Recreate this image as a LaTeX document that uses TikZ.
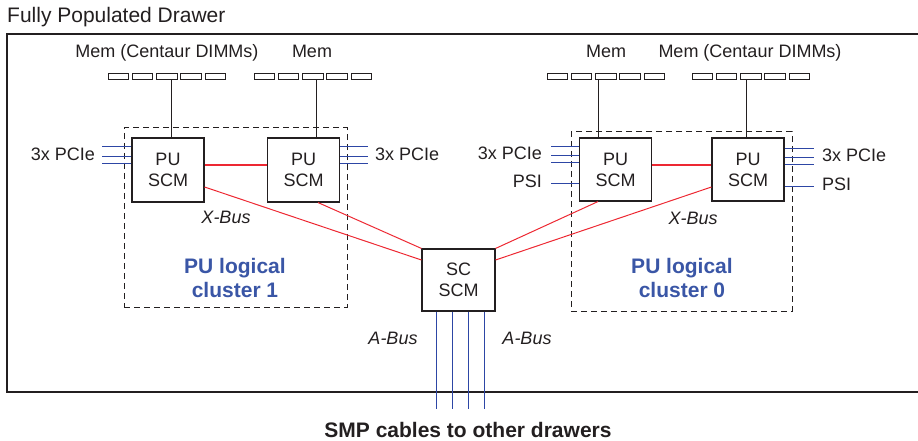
\documentclass[tikz,border=0pt]{standalone}
\usepackage{fontspec}
\setmainfont{Liberation Sans}
\usetikzlibrary{calc}
\definecolor{busred}{RGB}{237,40,50}
\definecolor{busblue}{RGB}{45,70,165}
\definecolor{clblue}{RGB}{58,86,166}
\definecolor{ink}{RGB}{35,31,32}
\begin{document}
\begin{tikzpicture}[x=1pt,y=-1pt,
  scm/.style={draw=ink, line width=1.1pt, fill=white, minimum width=72pt,
    minimum height=63pt, inner sep=0pt, align=center,
    font=\fontsize{18}{21}\selectfont, text=ink},
  dimm/.style={draw=ink, line width=0.9pt, minimum width=20.5pt,
    minimum height=6pt, inner sep=0pt},
  lbl/.style={font=\fontsize{18}{21}\selectfont, text=ink, inner sep=0pt},
  buslbl/.style={font=\fontsize{18}{21}\selectfont\itshape, text=ink, inner sep=0pt},
  cluster/.style={draw=ink, line width=1pt, dash pattern=on 6pt off 4pt},
  cllbl/.style={font=\fontsize{21}{24}\selectfont\bfseries, text=clblue,
    inner sep=0pt, align=center},
  redbus/.style={draw=busred, line width=1pt},
  xred/.style={draw=busred, line width=1.15pt},
  bluebus/.style={draw=busblue, line width=1pt},
  memline/.style={draw=ink, line width=1pt},
  frame/.style={draw=ink, line width=1.4pt}
]
\useasboundingbox (0,0) rectangle (918,441);

% title and drawer frame
\node[lbl, font=\fontsize{21}{24}\selectfont, anchor=base west] (title) at (7,23) {Fully Populated Drawer};
\draw[frame] (918,34) -- (7,34) -- (7,392) -- (918,392);

% logical clusters
\node[cluster, minimum width=223pt, minimum height=179pt, inner sep=0pt] (cl1) at (235.5,217.5) {};
\node[cluster, minimum width=221pt, minimum height=179pt, inner sep=0pt] (cl0) at (681.5,221.5) {};

% memory strips
\foreach \i in {0,...,4} {
  \node[dimm] (ma\i) at ({118.25+\i*24.3},76) {};
  \node[dimm] (mb\i) at ({264.25+\i*24.3},76) {};
  \node[dimm] (mc\i) at ({557.25+\i*24.3},76) {};
  \node[dimm] (md\i) at ({702.25+\i*24.3},76) {};
}
\node[lbl, anchor=base] (lma) at (167,58) {Mem (Centaur DIMMs)};
\node[lbl, anchor=base] (lmb) at (312,58) {Mem};
\node[lbl, anchor=base] (lmc) at (606,58) {Mem};
\node[lbl, anchor=base] (lmd) at (750,58) {Mem (Centaur DIMMs)};

% SCMs
\node[scm, minimum height=64pt] (pu1) at (168,170) {PU\\SCM};
\node[scm, minimum height=64pt] (pu2) at (303.5,170) {PU\\SCM};
\node[scm] (pu3) at (615.5,169.5) {PU\\SCM};
\node[scm] (pu4) at (748,169.5) {PU\\SCM};
\node[scm, minimum width=73pt, minimum height=62pt] (sc) at (458.5,280) {SC\\SCM};

% memory connections
\draw[memline] ([xshift=5pt]ma2.south) -- ([xshift=5pt]ma2.south |- pu1.north);
\draw[memline] ([xshift=4pt]mb2.south) -- ([xshift=4pt]mb2.south |- pu2.north);
\draw[memline] ([xshift=-7pt]mc2.south) -- ([xshift=-7pt]mc2.south |- pu3.north);
\draw[memline] ([xshift=-4pt]md2.south) -- ([xshift=-4pt]md2.south |- pu4.north);

% X-Bus
\draw[xred] ([yshift=5pt]pu1.east) -- ([yshift=5pt]pu2.west);
\draw[xred] ([yshift=4.5pt]pu3.east) -- ([yshift=4.5pt]pu4.west);
\draw[redbus] ([yshift=-17pt]pu1.east) -- ([yshift=20pt]sc.west);
\draw[redbus] ([xshift=14.5pt]pu2.south) -- (sc.north west);
\draw[redbus] ([xshift=-17.5pt]pu3.south) -- (sc.north east);
\draw[redbus] ([yshift=-17.5pt]pu4.west) -- ([yshift=20pt]sc.east);
\node[buslbl] (xb1) at (226,217) {X-Bus};
\node[buslbl] (xb0) at (693,218) {X-Bus};

% PCIe / PSI
\foreach \d in {23,14,7} {
  \draw[bluebus] ([yshift=\d pt]pu1.west) -- ++(-29,0);
  \draw[bluebus] ([yshift=\d pt]pu2.east) -- ++(28,0);
}
\foreach \d in {22.5,14.5,7.5,-13.5} {
  \draw[bluebus] ([yshift=\d pt]pu3.west) -- ++(-28,0);
}
\foreach \d in {20.5,12.5,5.5,-16.5} {
  \draw[bluebus] ([yshift=\d pt]pu4.east) -- ++(29,0);
}
\node[lbl, anchor=mid east] (pc1) at (95,158) {3x PCIe};
\node[lbl, anchor=mid west] (pc2) at (375,158) {3x PCIe};
\node[lbl, anchor=mid east] (pc3) at (542,157) {3x PCIe};
\node[lbl, anchor=mid east] (ps3) at (542,185) {PSI};
\node[lbl, anchor=mid west] (pc4) at (822,159) {3x PCIe};
\node[lbl, anchor=mid west] (ps4) at (822,188) {PSI};

% cluster labels
\node[cllbl] (cn1) at (235,278) {PU logical\\cluster 1};
\node[cllbl] (cn0) at (682,278) {PU logical\\cluster 0};

% A-Bus / SMP cables
\coordinate (smp) at (458.5,409);
\foreach \d in {-22.5,-6.5,9.5,25.5} {
  \draw[bluebus] ([xshift=\d pt]sc.south) -- ([xshift=\d pt]sc.south |- smp);
}
\node[buslbl] (ab1) at (393,338) {A-Bus};
\node[buslbl] (ab2) at (527,338) {A-Bus};
\node[lbl, font=\fontsize{21}{24}\selectfont\bfseries, anchor=base] (smpl) at (468,437) {SMP cables to other drawers};
\end{tikzpicture}
\end{document}
